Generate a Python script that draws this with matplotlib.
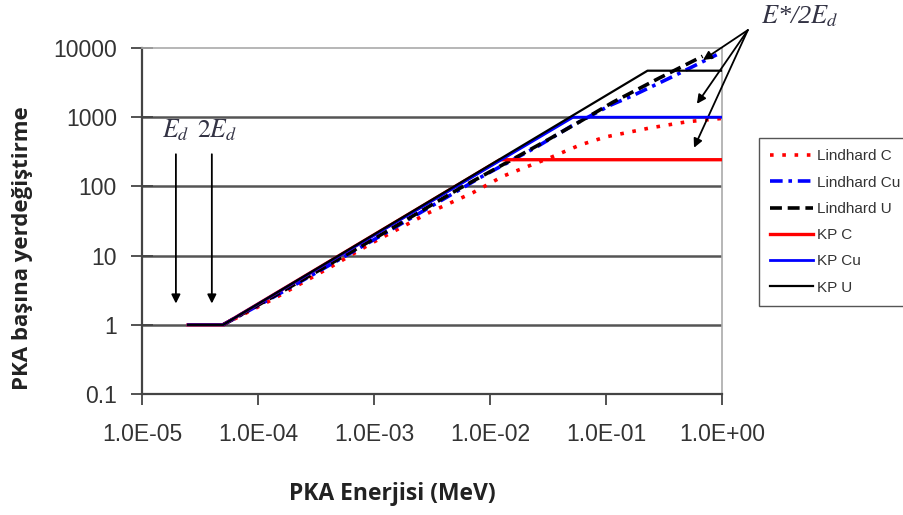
import matplotlib
matplotlib.use("Agg")
import matplotlib.pyplot as plt

plt.rcParams['font.family'] = ['Liberation Sans', 'DejaVu Sans']
plt.rcParams['mathtext.fontset'] = 'stix'

# PKA energy (MeV) and displacements per PKA
kp_c_E = [2.5e-5, 5e-5, 0.0122, 1.0]
kp_c_N = [1, 1, 243, 243]
kp_cu_E = [2.5e-5, 5e-5, 0.052, 1.0]
kp_cu_N = [1, 1, 1000, 1000]
kp_u_E = [2.5e-5, 5e-5, 0.228, 1.0]
kp_u_N = [1, 1, 4700, 4700]

lind_c_E = [5e-5, 1.35e-4, 4.2e-4, 9.8e-4, 3.0e-3, 7.1e-3, 0.0129, 0.018, 0.033, 0.06, 0.1, 0.24, 0.5, 1.0]
lind_c_N = [1, 2.35, 6.8, 15.5, 42, 81, 140, 175, 260, 398, 520, 700, 860, 960]
lind_cu_E = [5e-5, 1.35e-4, 4.2e-4, 1e-3, 5.5e-3, 8.2e-3, 0.0254, 0.05, 0.11, 0.17, 0.38, 0.9]
lind_cu_N = [1, 2.5, 7.4, 17, 90, 134, 374, 740, 1500, 2050, 3900, 8000]
lind_u_E = [5e-5, 1.35e-4, 4.2e-4, 1e-3, 5.5e-3, 0.0125, 0.03, 0.06, 0.115, 0.29, 0.68]
lind_u_N = [1, 2.55, 7.6, 17.5, 94, 200, 450, 870, 1650, 3700, 7600]

x_ticks = [1e-5, 1e-4, 1e-3, 1e-2, 1e-1, 1e0]
x_labels = ['1.0E-05', '1.0E-04', '1.0E-03', '1.0E-02', '1.0E-01', '1.0E+00']
y_ticks = [0.1, 1, 10, 100, 1000, 10000]
y_labels = ['0.1', '1', '10', '100', '1000', '10000']

# Ed and 2Ed markers, E*/2Ed arrows
ed_E = [1.96e-5, 4.0e-5]
ed_label_E = [1.93e-5, 4.43e-5]
ed_labels = [r'$E_d$', r'$2E_d$']
star_tips_E = [0.686, 0.608, 0.574]
star_tips_N = [6710, 1560, 362]
star_origin = (1.67, 18150)

fig = plt.figure(figsize=(9.04, 5.15), dpi=100)
ax = fig.add_axes([142 / 904, 1 - 394 / 515, 580 / 904, 346 / 515])
ax.set_xscale('log')
ax.set_yscale('log')

ax.plot(lind_c_E, lind_c_N, color='#ff0000', lw=2.6, ls=(0, (1, 2.4)), label='Lindhard C', zorder=3)
ax.plot(lind_cu_E, lind_cu_N, color='#0000ff', lw=2.6, ls=(0, (3.5, 1.6, 1, 1.6)), label='Lindhard Cu', zorder=3)
ax.plot(lind_u_E, lind_u_N, color='black', lw=2.6, ls=(0, (3.3, 1.6)), label='Lindhard U', zorder=3)
ax.plot(kp_c_E, kp_c_N, color='#ff0000', lw=2.4, label='KP C', zorder=4)
ax.plot(kp_cu_E, kp_cu_N, color='#0000ff', lw=2.0, label='KP Cu', zorder=4)
ax.plot(kp_u_E, kp_u_N, color='black', lw=1.6, label='KP U', zorder=5)

ax.set_xlim(1e-5, 1.0)
ax.set_ylim(0.1, 10000)
ax.set_xticks(x_ticks)
ax.set_xticklabels(x_labels)
ax.set_yticks(y_ticks)
ax.set_yticklabels(y_labels)
ax.minorticks_off()
ax.tick_params(axis='x', direction='out', length=8, width=1.3, color='#444444',
               labelsize=16.5, labelcolor='#333333', pad=13)
ax.tick_params(axis='y', direction='inout', length=16, width=1.3, color='#444444',
               labelsize=16.5, labelcolor='#333333', pad=10)

ax.yaxis.grid(True, color='#555555', lw=1.8)
ax.get_ygridlines()[-1].set_visible(False)
ax.get_ygridlines()[0].set_visible(False)
ax.set_axisbelow(True)
for side in ['left', 'bottom']:
    ax.spines[side].set_color('#444444')
    ax.spines[side].set_linewidth(1.6)
for side in ['top', 'right']:
    ax.spines[side].set_color('#aaaaaa')
    ax.spines[side].set_linewidth(1.2)

for e, le, lab in zip(ed_E, ed_label_E, ed_labels):
    ax.annotate('', xy=(e, 1.85), xytext=(e, 320),
                arrowprops=dict(arrowstyle='-|>', color='black', lw=1.3, mutation_scale=13))
    ax.text(le, 650, lab, ha='center', va='center', fontsize=18.5,
            color='#333344')

for e, n in zip(star_tips_E, star_tips_N):
    ax.annotate('', xy=(e, n), xytext=star_origin, annotation_clip=False,
                arrowprops=dict(arrowstyle='-|>', color='black', lw=1.3, mutation_scale=13,
                                shrinkA=0, shrinkB=0))
ax.text(2.15, 29000, r'$E$*/2$E_d$', ha='left', va='center', fontsize=19,
        color='#333344', family='Liberation Serif', style='italic', clip_on=False)

leg = ax.legend(loc='upper left', bbox_to_anchor=(759 / 904, 1 - 138 / 515),
                bbox_transform=fig.transFigure, fontsize=11, frameon=True,
                fancybox=False, framealpha=1, edgecolor='#555555',
                labelspacing=0.8, handlelength=2.8, handletextpad=0.25,
                borderpad=0.75, borderaxespad=0)
leg.get_frame().set_linewidth(1.0)
for t in leg.get_texts():
    t.set_color('#333333')

fig.text(23 / 904, 1 - 248 / 515, 'PKA başına yerdeğiştirme', rotation=90,
         ha='center', va='center', fontsize=16, fontweight='bold',
         family='Open Sans', color='#222222')
fig.text(392 / 904, 1 - 494 / 515, 'PKA Enerjisi (MeV)', ha='center', va='center',
         fontsize=16.5, fontweight='bold', family='Open Sans', color='#222222')

fig.savefig('out.png', dpi=100)
